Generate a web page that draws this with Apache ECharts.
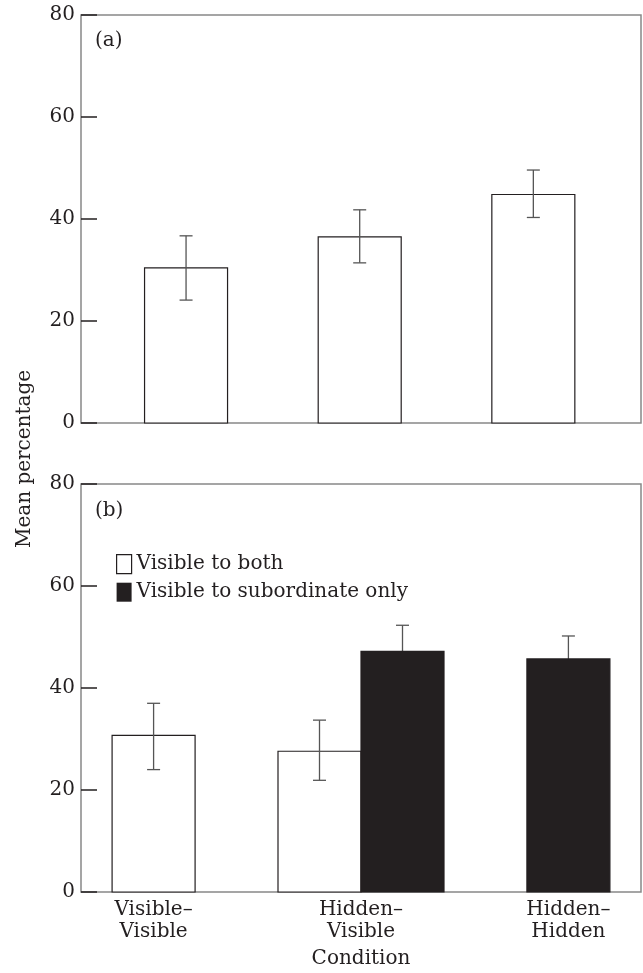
<!DOCTYPE html>
<html>
<head>
<meta charset="utf-8">
<title>Mean percentage by condition</title>
<script src="https://cdn.jsdelivr.net/npm/echarts@6/dist/echarts.min.js"></script>
<style>
  html, body { margin: 0; padding: 0; background: #fff; }
  #chart { width: 643px; height: 973px; }
</style>
</head>
<body>
<div id="chart"></div>
<script>
// categories on the x axis (panel b labels them)
var categories = ['Visible–\nVisible', 'Hidden–\nVisible', 'Hidden–\nHidden'];
var yTicks = [0, 20, 40, 60, 80];

// panel (a): one bar per condition
var aMean = [30.4, 36.5, 44.8];
var aLow = [24.1, 31.4, 40.3];
var aHigh = [36.7, 41.8, 49.6];

// panel (b): visible to both
var bothMean = [30.7, 27.6, null];
var bothLow = [24.0, 21.9, null];
var bothHigh = [37.0, 33.7, null];

// panel (b): visible to subordinate only
var subMean = [null, 47.2, 45.7];
var subLow = [null, 42.1, 41.2];
var subHigh = [null, 52.3, 50.2];

var FONT = 'DejaVu Serif';
var INK = '#231f20';
var BAR_W = 83;

// [x, mean, low, high, shift] ; shift -1 / +1 when two bars share a category
function buildData(mean, low, high, other, side) {
    var out = [];
    for (var i = 0; i < mean.length; i++) {
        if (mean[i] == null) continue;
        var shift = other && other[i] != null ? side : 0;
        out.push([i + 1, mean[i], low[i], high[i], shift]);
    }
    return out;
}

function barWithError(fill) {
    return function (params, api) {
        var x = api.value(0);
        var base = api.coord([x, 0]);
        var top = api.coord([x, api.value(1)]);
        var lo = api.coord([x, api.value(2)]);
        var hi = api.coord([x, api.value(3)]);
        var cx = base[0] + api.value(4) * BAR_W / 2;
        var errStyle = { stroke: '#555', lineWidth: 1.3 };
        var err = [
            { type: 'line', shape: { x1: cx, y1: lo[1], x2: cx, y2: hi[1] }, style: errStyle },
            { type: 'line', shape: { x1: cx - 6.5, y1: hi[1], x2: cx + 6.5, y2: hi[1] }, style: errStyle },
            { type: 'line', shape: { x1: cx - 6.5, y1: lo[1], x2: cx + 6.5, y2: lo[1] }, style: errStyle }
        ];
        var bar = {
            type: 'rect',
            shape: { x: cx - BAR_W / 2, y: top[1], width: BAR_W, height: base[1] - top[1] },
            style: { fill: fill, stroke: INK, lineWidth: 1.2 }
        };
        // white bars show the whole error bar, black bars hide the lower half
        var children = fill === INK ? err.concat([bar]) : [bar].concat(err);
        return { type: 'group', children: children };
    };
}

var chart = echarts.init(document.getElementById('chart'), null, { renderer: 'canvas' });

function yAxisFor(gridIndex) {
    return {
        type: 'value',
        gridIndex: gridIndex,
        min: 0,
        max: 80,
        interval: 20,
        splitLine: { show: false },
        axisLine: { show: false },
        axisTick: { show: true, inside: true, length: 16, lineStyle: { color: INK, width: 1.5 } },
        axisLabel: {
            margin: 6,
            fontSize: 20,
            fontFamily: FONT,
            color: INK,
            customValues: yTicks
        }
    };
}

var option = {
    animation: false,
    backgroundColor: '#fff',
    grid: [
        { left: 81, top: 15, width: 560, height: 408, show: true, borderColor: '#888', borderWidth: 1.5 },
        { left: 81, top: 484, width: 560, height: 408, show: true, borderColor: '#888', borderWidth: 1.5 }
    ],
    xAxis: [
        {
            type: 'value', gridIndex: 0, min: 0.395, max: 3.62,
            axisLine: { show: false }, axisTick: { show: false },
            axisLabel: { show: false }, splitLine: { show: false }
        },
        {
            type: 'value', gridIndex: 1, min: 0.65, max: 3.35,
            axisLine: { show: false }, axisTick: { show: false }, splitLine: { show: false },
            axisLabel: {
                customValues: [1, 2, 3],
                formatter: function (v) { return categories[Math.round(v) - 1]; },
                margin: 7,
                fontSize: 20,
                lineHeight: 22,
                fontFamily: FONT,
                color: INK
            },
            name: 'Condition',
            nameLocation: 'middle',
            nameGap: 57,
            nameTextStyle: { fontSize: 20, fontFamily: FONT, color: INK }
        }
    ],
    yAxis: [yAxisFor(0), yAxisFor(1)],
    legend: {
        data: [
            { name: 'Visible to both', itemStyle: { color: '#fff', borderColor: INK, borderWidth: 1.2 } },
            { name: 'Visible to subordinate only', itemStyle: { color: INK } }
        ],
        orient: 'vertical',
        left: 111,
        top: 549,
        icon: 'rect',
        itemWidth: 15,
        itemHeight: 19,
        itemGap: 8,
        selectedMode: false,
        textStyle: { fontSize: 20, fontFamily: FONT, color: INK }
    },
    graphic: [
        { type: 'text', left: 95, top: 31, style: { text: '(a)', fontSize: 20, fontFamily: FONT, fill: INK } },
        { type: 'text', left: 95, top: 501, style: { text: '(b)', fontSize: 20, fontFamily: FONT, fill: INK } },
        {
            type: 'text', x: 25, y: 459, rotation: Math.PI / 2,
            style: {
                text: 'Mean percentage', fontSize: 20, fontFamily: FONT, fill: INK,
                align: 'center', verticalAlign: 'middle'
            }
        }
    ],
    series: [
        {
            name: 'All conditions',
            type: 'custom',
            xAxisIndex: 0,
            yAxisIndex: 0,
            renderItem: barWithError('#fff'),
            data: buildData(aMean, aLow, aHigh, null, 0)
        },
        {
            name: 'Visible to both',
            type: 'custom',
            xAxisIndex: 1,
            yAxisIndex: 1,
            itemStyle: { color: '#fff', borderColor: INK },
            renderItem: barWithError('#fff'),
            data: buildData(bothMean, bothLow, bothHigh, subMean, -1)
        },
        {
            name: 'Visible to subordinate only',
            type: 'custom',
            xAxisIndex: 1,
            yAxisIndex: 1,
            itemStyle: { color: INK },
            renderItem: barWithError(INK),
            data: buildData(subMean, subLow, subHigh, bothMean, 1)
        }
    ]
};

chart.setOption(option);
</script>
</body>
</html>
